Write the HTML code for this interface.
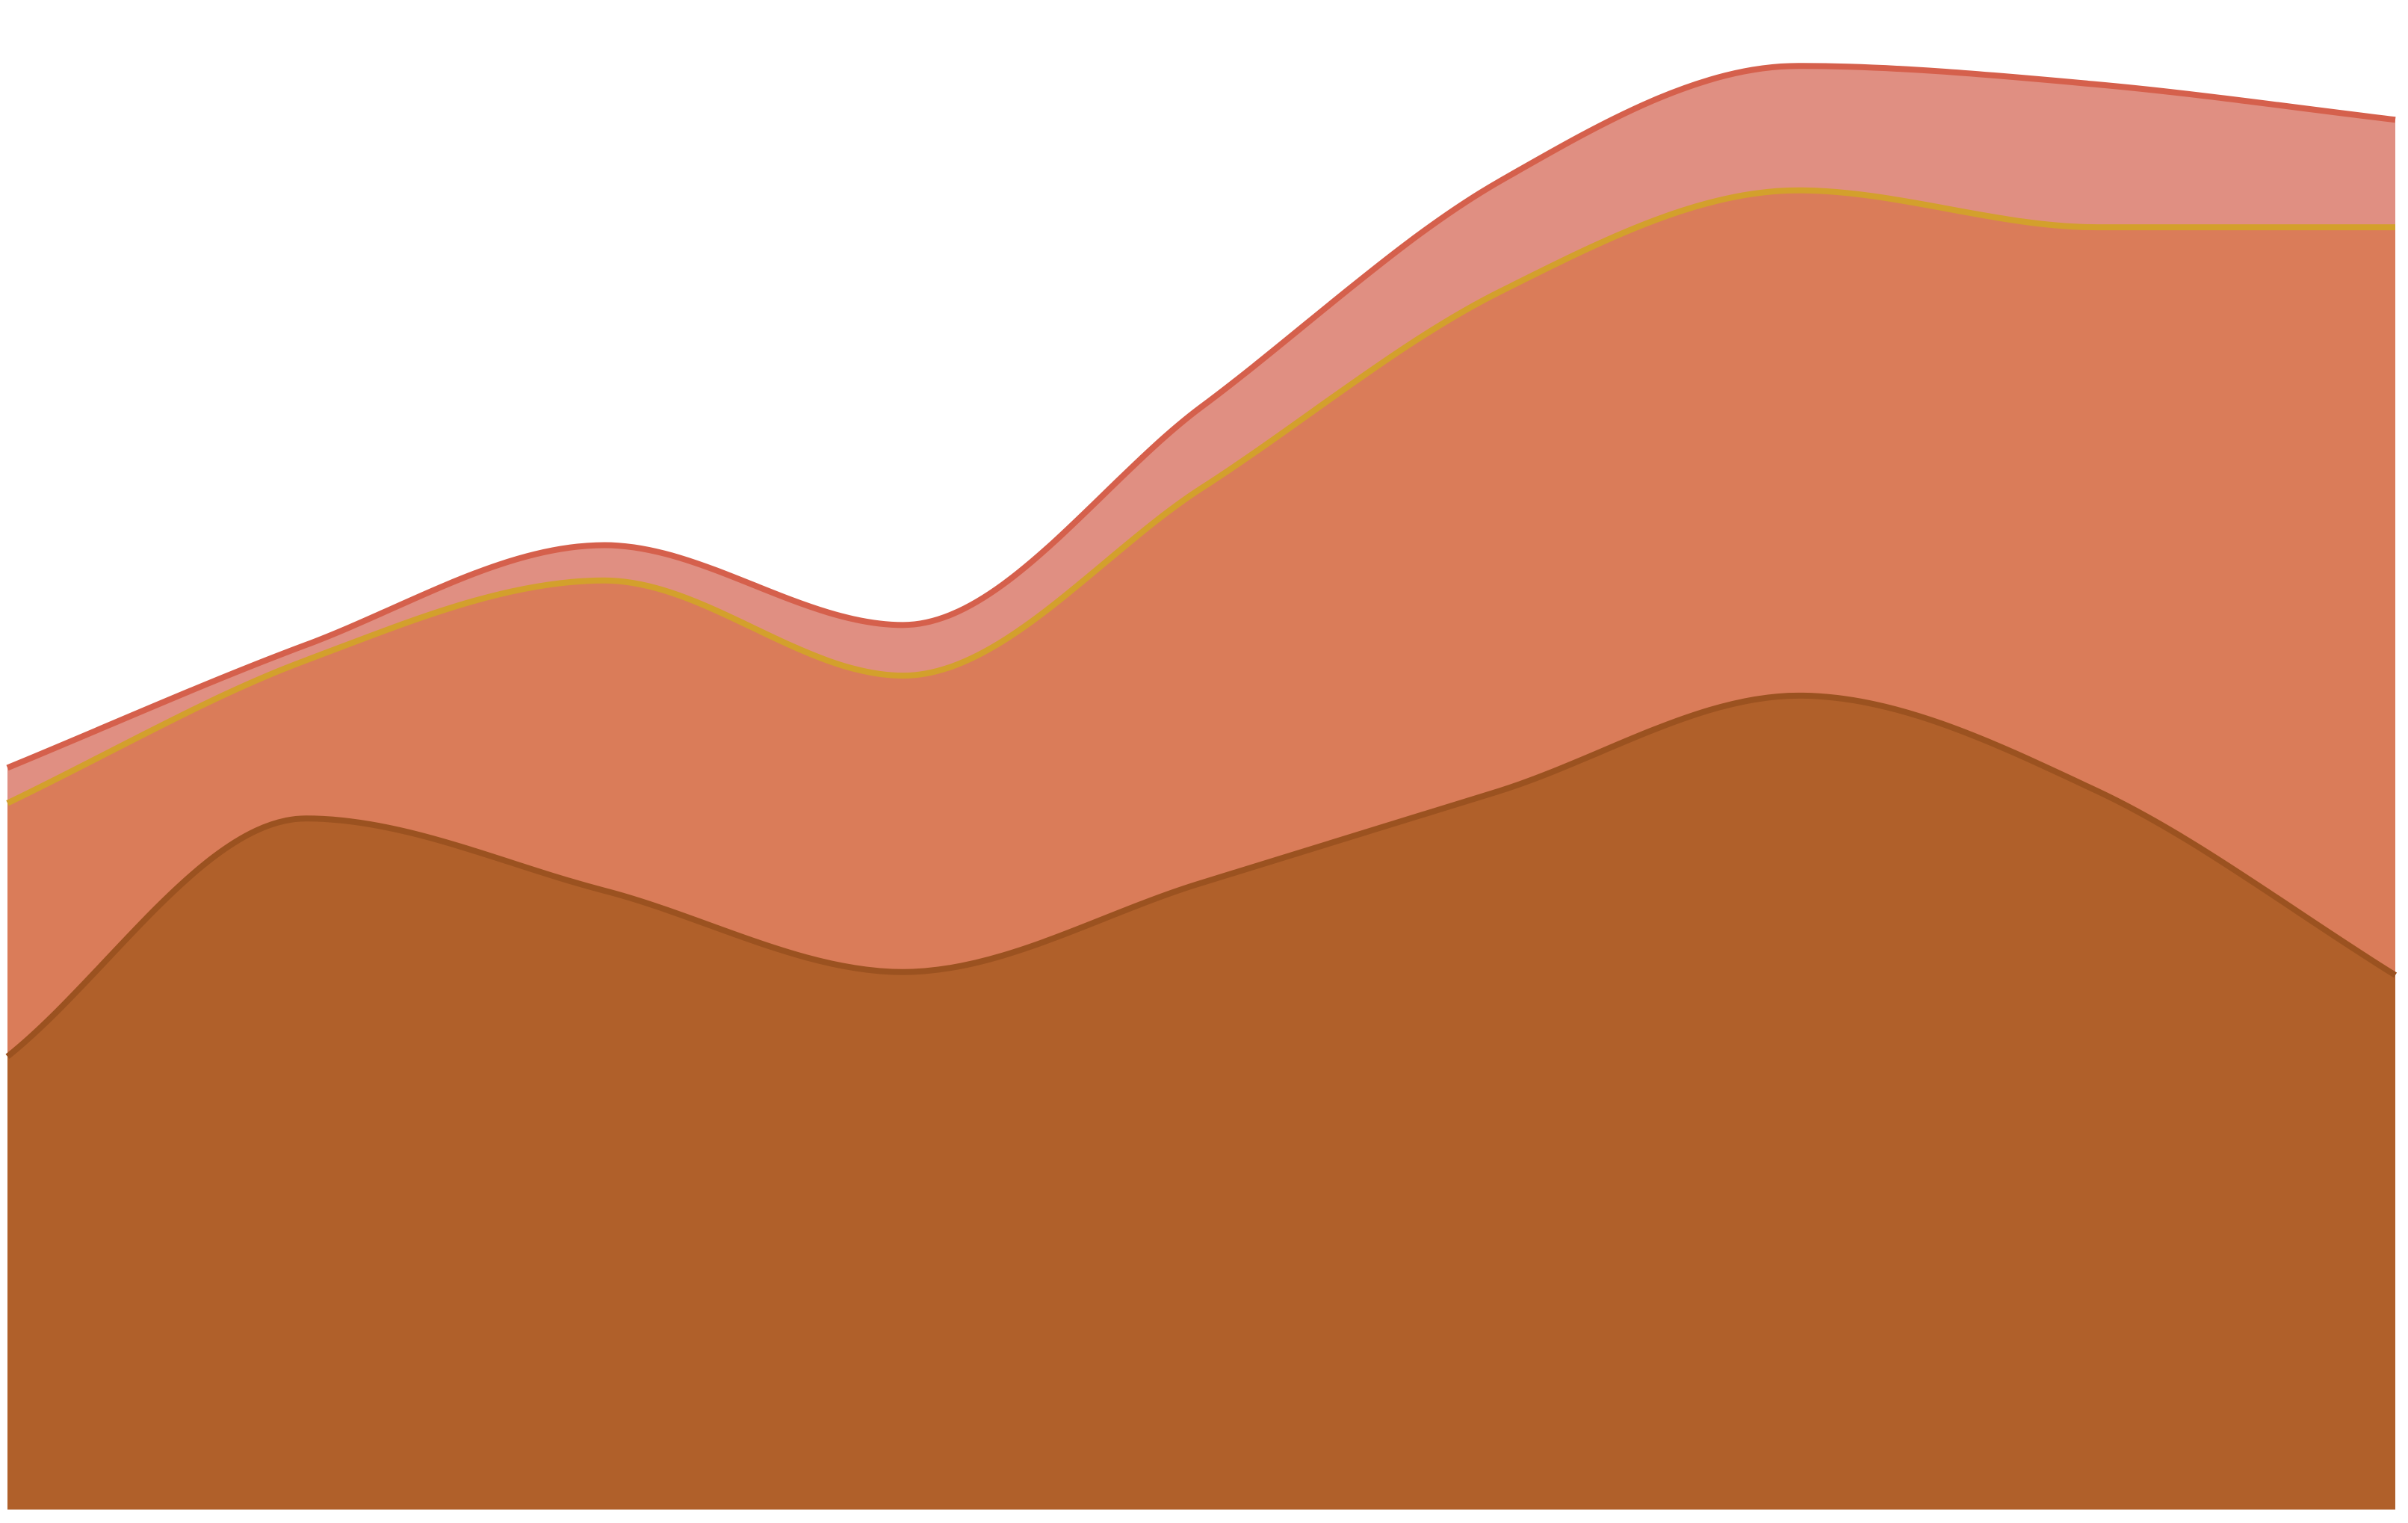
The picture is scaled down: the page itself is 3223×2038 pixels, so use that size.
<!DOCTYPE html>
<html><head><meta charset="utf-8"><style>
html,body{margin:0;padding:0;background:#fff;}
svg{display:block;}
</style></head><body>
<svg id="chart" width="3223" height="2038" viewBox="0 0 3223 2038"></svg>
<script>
const categories = [0,1,2,3,4,5,6,7,8];
const seriesBottom = [295,450,403,350,408,468,530,468,348];
const seriesMiddle = [165,103,202,193,257,325,329,367,487];
const seriesTop = [23,10,23,33,53,72,81,93,70];

const svg = document.getElementById('chart');
const NS = 'http://www.w3.org/2000/svg';
const x0 = 10, x1 = 3206, yBase = 2020, yUnit = 2.055;
function xScale(i){ return x0 + (x1 - x0) * i / (categories.length - 1); }
function yScale(v){ return yBase - v * yUnit; }

function monotone(pts){
  const n = pts.length;
  const dx = [], s = [];
  for (let i = 0; i < n-1; i++){ dx.push(pts[i+1][0]-pts[i][0]); s.push((pts[i+1][1]-pts[i][1])/dx[i]); }
  const m = new Array(n);
  m[0] = s[0]; m[n-1] = s[n-2];
  for (let i = 1; i < n-1; i++){
    if (s[i-1]*s[i] <= 0) m[i] = 0;
    else {
      const h0 = dx[i-1], h1 = dx[i];
      const p = (s[i-1]*h1 + s[i]*h0)/(h0+h1);
      m[i] = (Math.sign(s[i-1]) + Math.sign(s[i])) * Math.min(Math.abs(s[i-1]), Math.abs(s[i]), 0.5*Math.abs(p));
    }
  }
  let d = 'M' + pts[0][0] + ',' + pts[0][1];
  for (let i = 0; i < n-1; i++){
    const h = dx[i]/3;
    d += ' C' + (pts[i][0]+h) + ',' + (pts[i][1]+m[i]*h) + ' ' + (pts[i+1][0]-h) + ',' + (pts[i+1][1]-m[i+1]*h) + ' ' + pts[i+1][0] + ',' + pts[i+1][1];
  }
  return d;
}

const layers = [
  {vals: seriesBottom, fill:'#b0602a', stroke:'#9b5220', name:'series-bottom'},
  {vals: seriesMiddle, fill:'#da7c59', stroke:'#d3a02c', name:'series-middle'},
  {vals: seriesTop, fill:'#e08f82', stroke:'#d5604c', name:'series-top'}
];
let cum = categories.map(() => 0);
const groups = [];
layers.forEach(l => {
  cum = cum.map((c, i) => c + l.vals[i]);
  const pts = categories.map((c, i) => [xScale(i), yScale(cum[i])]);
  groups.push({pts, l});
});
for (let k = groups.length - 1; k >= 0; k--) {
  const {pts, l} = groups[k];
  const area = document.createElementNS(NS, 'path');
  area.setAttribute('d', monotone(pts) + ' L' + xScale(categories.length-1) + ',' + yBase + ' L' + xScale(0) + ',' + yBase + ' Z');
  area.setAttribute('fill', l.fill);
  
  
  svg.appendChild(area);
}
for (let k = groups.length - 1; k >= 0; k--) {
  const {pts, l} = groups[k];
  const path = document.createElementNS(NS, 'path');
  path.setAttribute('d', monotone(pts));
  path.setAttribute('fill', 'none');
  path.setAttribute('stroke', l.stroke);
  path.setAttribute('stroke-width', '8');
  
  
  svg.appendChild(path);
}
</script>
</body></html>
